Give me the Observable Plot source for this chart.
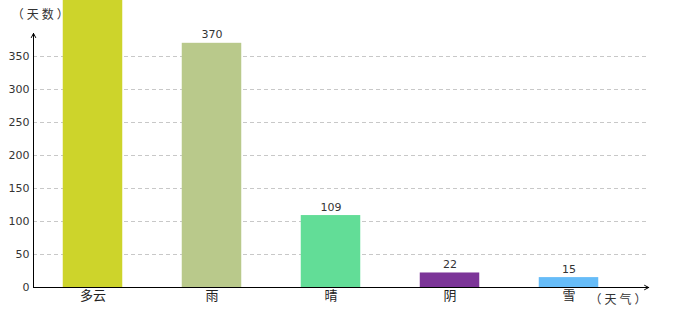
<!DOCTYPE html>
<html>
<head>
<meta charset="utf-8">
<script src="https://cdn.jsdelivr.net/npm/d3@7"></script>
<script src="https://cdn.jsdelivr.net/npm/@observablehq/plot@0.6"></script>
<style>
  html, body { margin: 0; padding: 0; background: #fff; }
  #chart svg { display: block; }
  #chart .axis-title text { letter-spacing: 3px; }
</style>
</head>
<body>
<div id="chart"></div>
<script>
const categories = ["多云", "雨", "晴", "阴", "雪"];
const values = [480, 370, 109, 22, 15];
const valueLabels = [null, "370", "109", "22", "15"];
const colors = ["#CDD42B", "#B9C98B", "#62DD97", "#7C3598", "#66BCF8"];
const yTicks = [0, 50, 100, 150, 200, 250, 300, 350];
const yTitle = "（天数）";
const xTitle = "（天气）";

const data = categories.map((c, i) => ({i, c, v: values[i], label: valueLabels[i], color: colors[i]}));
const xEnd = 4.67;   // end of x-axis arrow (in category units)
const yEnd = 385;    // end of y-axis arrow (in value units)

const chart = Plot.plot({
  width: 680,
  height: 320,
  marginLeft: 33,
  marginRight: 32,
  marginTop: 0,
  marginBottom: 33,
  style: {fontFamily: "'DejaVu Sans', sans-serif", fontSize: "11px", color: "#333", background: "#fff"},
  x: {type: "linear", domain: [-0.5, 4.5], range: [33, 628], axis: null},
  y: {domain: [0, 350], range: [287, 56], axis: null},
  marks: [
    Plot.ruleY(yTicks.slice(1), {x1: () => -0.5, x2: () => xEnd, stroke: "#c8c8c8", strokeDasharray: "4,3"}),
    Plot.rectY(data, {x1: d => d.i - 0.25, x2: d => d.i + 0.25, y1: () => 0, y2: "v", fill: "color"}),
    Plot.text(data.filter(d => d.label), {x: "i", y: "v", text: "label", lineAnchor: "bottom", dy: -5, fill: "#333", fontSize: 11}),
    Plot.text(yTicks, {x: () => -0.5, y: d => d, text: d => String(d), textAnchor: "end", dx: -4, fill: "#333", fontSize: 11}),
    Plot.text(data, {x: "i", y: () => 0, text: "c", lineAnchor: "top", dy: 3, fill: "#222", fontSize: 13, fontFamily: "'Noto Sans CJK SC', sans-serif"}),
    Plot.arrow([0], {x1: () => -0.5, y1: () => 0, x2: () => -0.5, y2: () => yEnd, stroke: "#000", strokeWidth: 1, headLength: 7, headAngle: 55}),
    Plot.arrow([0], {x1: () => -0.5, y1: () => 0, x2: () => xEnd, y2: () => 0, stroke: "#000", strokeWidth: 1, headLength: 7, headAngle: 55}),
    Plot.text([yTitle], {x: () => -0.43, y: () => 412, text: d => d, fill: "#333", fontSize: 12, fontFamily: "'Noto Sans CJK SC', sans-serif", className: "axis-title"}),
    Plot.text([xTitle], {x: () => 4.424, y: () => -19.5, text: d => d, fill: "#333", fontSize: 12, fontFamily: "'Noto Sans CJK SC', sans-serif", className: "axis-title"})
  ]
});
document.getElementById("chart").appendChild(chart);
</script>
</body>
</html>
